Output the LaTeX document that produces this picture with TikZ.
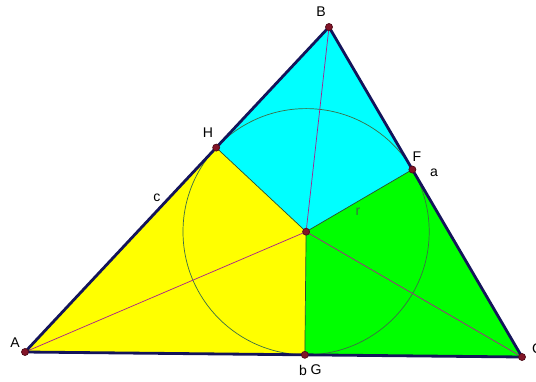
\documentclass[tikz,border=0pt]{standalone}
\usepackage{fontspec}
\setmainfont{Liberation Sans}
\usetikzlibrary{calc}
\definecolor{edgeblue}{RGB}{20,20,90}
\definecolor{bisect}{RGB}{170,30,140}
\definecolor{circgreen}{RGB}{60,110,70}
\definecolor{dotred}{RGB}{130,20,40}
\definecolor{kitecyan}{RGB}{0,255,255}
\definecolor{kiteyellow}{RGB}{255,255,0}
\definecolor{kitegreen}{RGB}{0,255,0}

\begin{document}
\begin{tikzpicture}[x=0.02cm,y=-0.02cm,
    lbl/.style={font=\fontsize{8}{9}\selectfont,inner sep=1pt},
    pt/.style={circle,fill=dotred,draw=dotred!60!black,inner sep=0pt,minimum size=4pt}]
    \useasboundingbox (0,0) rectangle (536,381);
    \coordinate (A) at (25,352);
    \coordinate (B) at (329,27);
    \coordinate (C) at (522,357);
    \coordinate (I) at (306.1,231.7);
    % feet of the radii
    \coordinate (H) at ($(A)!(I)!(B)$);
    \coordinate (F) at ($(B)!(I)!(C)$);
    \coordinate (G) at ($(A)!(I)!(C)$);
    % the three kites
    \fill[kitecyan] (B) -- (H) -- (I) -- (F) -- cycle;
    \fill[kiteyellow] (A) -- (H) -- (I) -- (G) -- cycle;
    \fill[kitegreen] (C) -- (F) -- (I) -- (G) -- cycle;
    \draw[circgreen,thin] (I) circle (123.1);
    \draw[circgreen!70!black,thin] (I) -- (H) (I) -- (F) (I) -- (G);
    \foreach \v in {A,B,C}{
        \draw[bisect,thin] (I) -- (\v);
    }
    \draw[edgeblue,line width=1.6pt,line join=round] (A) -- (B) -- (C) -- cycle;
    \foreach \p in {A,B,C,H,F,G,I}{
        \node[pt] (dot\p) at (\p) {};
    }
    \node[lbl] (labA) at (15,343) {A};
    \node[lbl] (labB) at (321,12) {B};
    \node[lbl,anchor=west] (labC) at (530,349) {C};
    \node[lbl] (labH) at (208,133) {H};
    \node[lbl] (labF) at (417,157) {F};
    \node[lbl] (laba) at (434,173) {a};
    \node[lbl] (labc) at (157,198) {c};
    \node[lbl] (labb) at (303,370) {b};
    \node[lbl] (labG) at (316,370) {G};
    \node[lbl,circgreen] (labr) at (358,212) {r};
\end{tikzpicture}
\end{document}
